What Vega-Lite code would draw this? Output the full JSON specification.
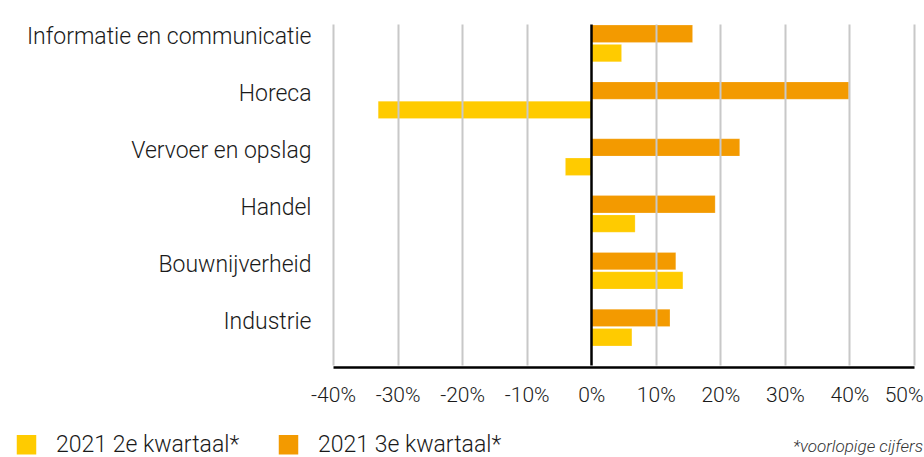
{
  "$schema": "https://vega.github.io/schema/vega-lite/v6.json",
  "width": 581,
  "height": 354,
  "autosize": {"type": "none"},
  "padding": {"left": 333, "top": 13, "right": 10, "bottom": 90},
  "background": "white",
  "config": {
    "view": {"stroke": null},
    "font": "Roboto",
    "axis": {"labelFont": "Roboto", "labelFontWeight": 300, "labelColor": "#1a1a1a"},
    "legend": {"labelFont": "Roboto", "labelFontWeight": 300}
  },
  "title": {
    "text": "*voorlopige cijfers",
    "orient": "bottom",
    "anchor": "end",
    "font": "Roboto",
    "fontSize": 17,
    "fontWeight": 300,
    "fontStyle": "italic",
    "color": "#333333",
    "offset": -18
  },
  "data": {
    "values": [
      {"sector": "Informatie en communicatie", "periode": "2021 2e kwartaal*", "waarde": 4.7},
      {"sector": "Informatie en communicatie", "periode": "2021 3e kwartaal*", "waarde": 15.7},
      {"sector": "Horeca", "periode": "2021 2e kwartaal*", "waarde": -33.0},
      {"sector": "Horeca", "periode": "2021 3e kwartaal*", "waarde": 39.9},
      {"sector": "Vervoer en opslag", "periode": "2021 2e kwartaal*", "waarde": -4.0},
      {"sector": "Vervoer en opslag", "periode": "2021 3e kwartaal*", "waarde": 23.0},
      {"sector": "Handel", "periode": "2021 2e kwartaal*", "waarde": 6.8},
      {"sector": "Handel", "periode": "2021 3e kwartaal*", "waarde": 19.2},
      {"sector": "Bouwnijverheid", "periode": "2021 2e kwartaal*", "waarde": 14.2},
      {"sector": "Bouwnijverheid", "periode": "2021 3e kwartaal*", "waarde": 13.1},
      {"sector": "Industrie", "periode": "2021 2e kwartaal*", "waarde": 6.3},
      {"sector": "Industrie", "periode": "2021 3e kwartaal*", "waarde": 12.2}
    ]
  },
  "mark": {"type": "bar", "stroke": "white", "strokeOpacity": 0.4, "strokeWidth": 0.5},
  "encoding": {
    "y": {
      "field": "sector",
      "type": "nominal",
      "sort": null,
      "title": null,
      "scale": {"range": [2, 343], "paddingInner": 0.354, "paddingOuter": 0.177},
      "axis": {
        "domain": false,
        "ticks": false,
        "labelFontSize": 23,
        "labelPadding": 22,
        "labelOffset": -6,
        "labelLimit": 400
      }
    },
    "yOffset": {
      "field": "periode",
      "type": "nominal",
      "sort": ["2021 3e kwartaal*", "2021 2e kwartaal*"],
      "scale": {"paddingInner": 0.1, "paddingOuter": 0}
    },
    "x": {
      "field": "waarde",
      "type": "quantitative",
      "title": null,
      "scale": {"domain": [-40, 50], "nice": false, "zero": false},
      "axis": {
        "values": [-40, -30, -20, -10, 0, 10, 20, 30, 40, 50],
        "labelExpr": "replace(datum.value + '%', '−', '-')",
        "labelFontSize": 21,
        "labelPadding": 17,
        "labelFlush": false,
        "labelAlign": {"condition": {"test": "datum.value === 50", "value": "right"}, "value": "center"},
        "labelOffset": {"condition": {"test": "datum.value === 50", "value": 9}, "value": 0},
        "ticks": false,
        "domainColor": "black",
        "domainWidth": 2.5,
        "grid": true,
        "gridColor": {"condition": {"test": "datum.value === 0", "value": "black"}, "value": "#c8c8c8"},
        "gridWidth": {"condition": {"test": "datum.value === 0", "value": 2.5}, "value": 2},
        "zindex": 1
      }
    },
    "color": {
      "field": "periode",
      "type": "nominal",
      "sort": ["2021 2e kwartaal*", "2021 3e kwartaal*"],
      "scale": {"range": ["#FFCB00", "#F39A00"]},
      "legend": {
        "title": null,
        "orient": "none",
        "direction": "horizontal",
        "legendX": -318,
        "legendY": 420,
        "symbolType": "square",
        "symbolSize": 380,
        "symbolStrokeWidth": 0,
        "symbolOpacity": 1,
        "labelFontSize": 23,
        "labelColor": "#1a1a1a",
        "labelOffset": 18,
        "columnPadding": 37,
        "labelLimit": 300
      }
    }
  }
}
